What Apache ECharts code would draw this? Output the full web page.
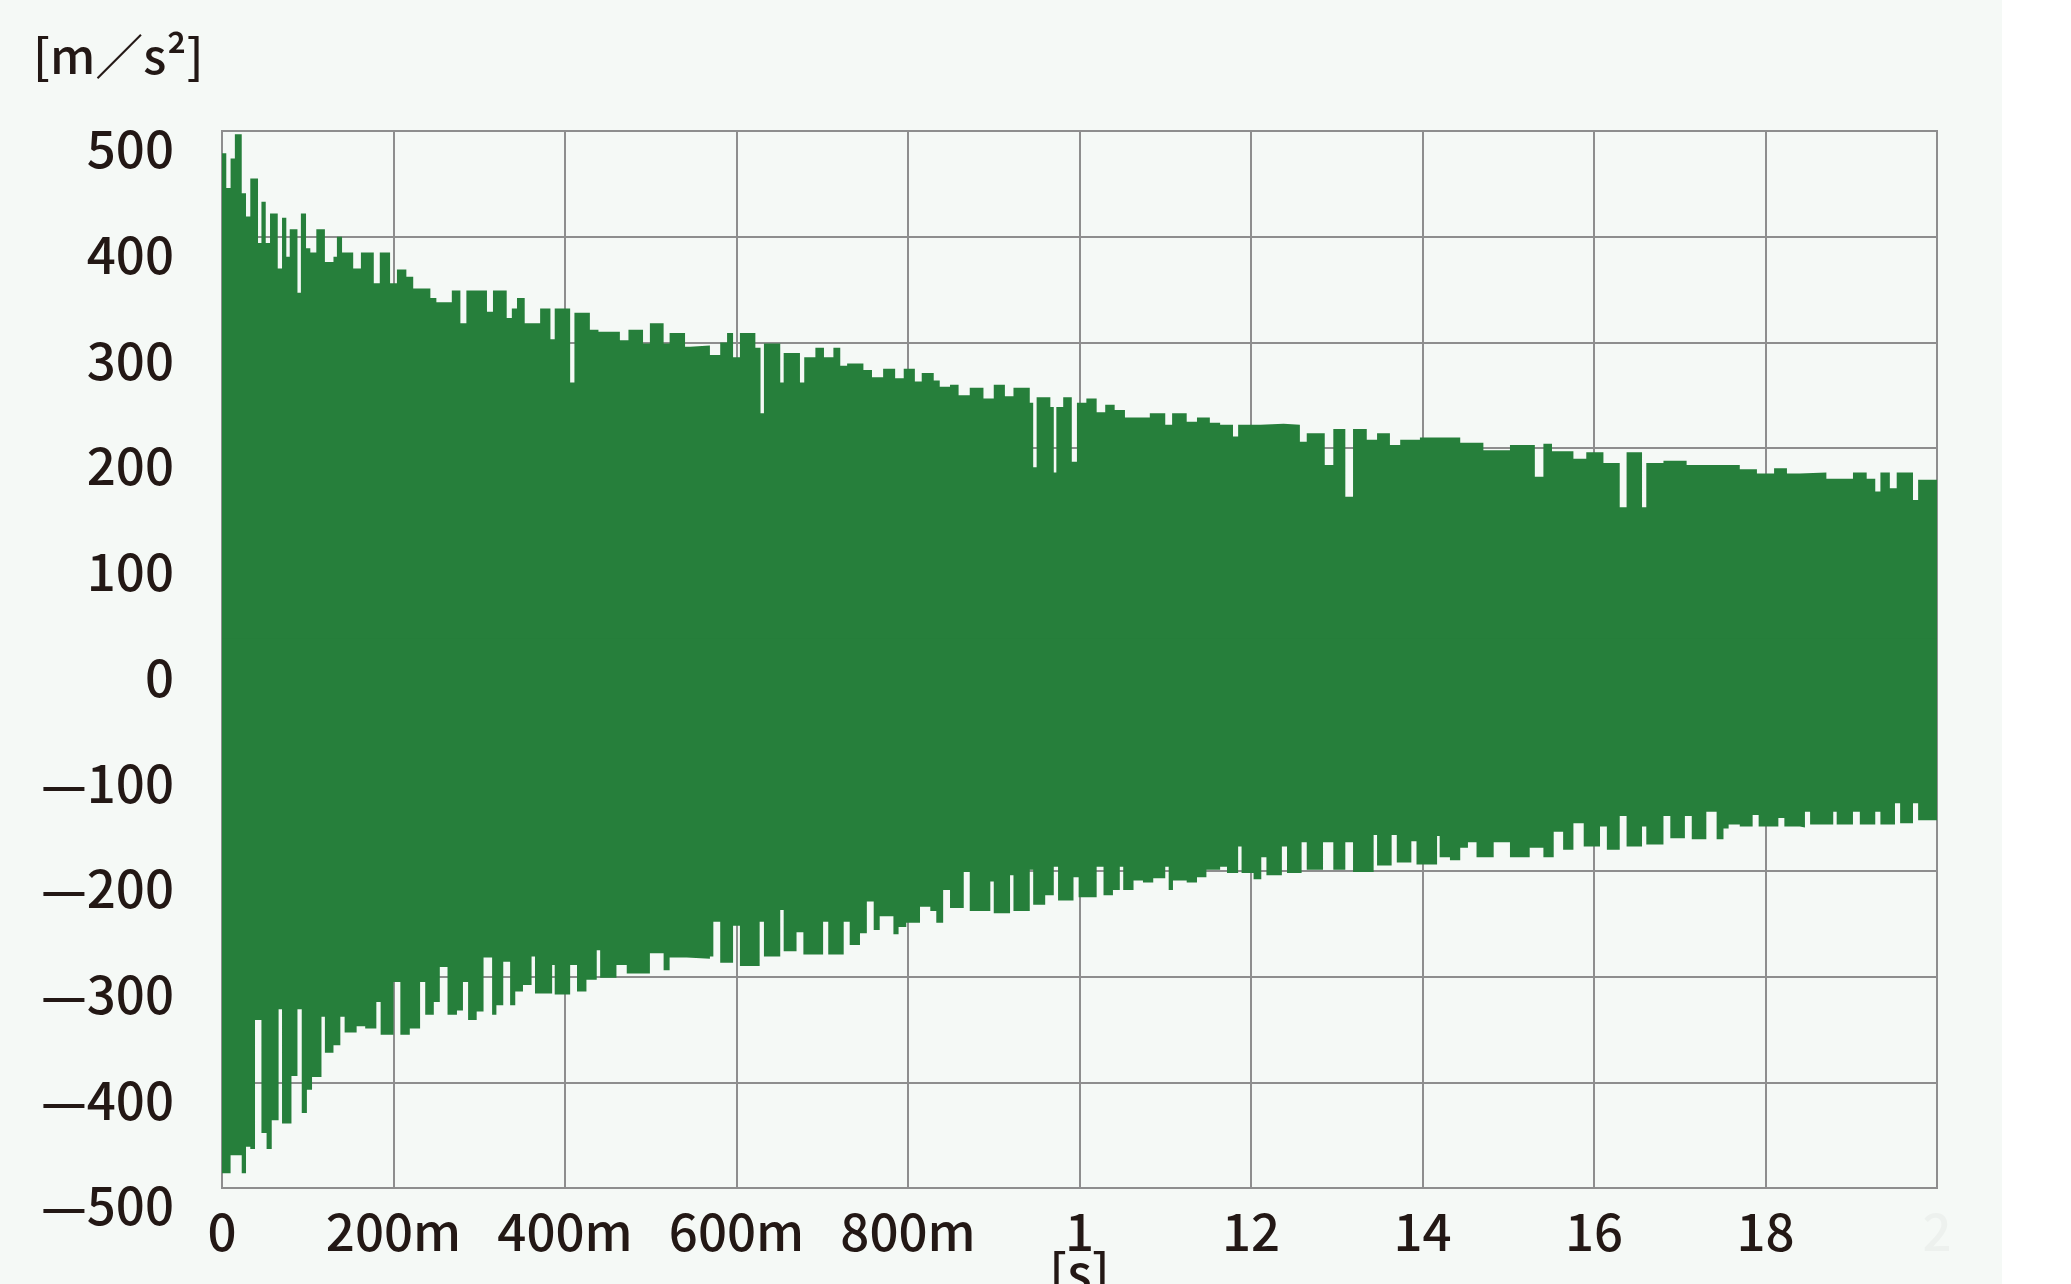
<!DOCTYPE html>
<html>
<head>
<meta charset="utf-8">
<script src="https://cdn.jsdelivr.net/npm/echarts@6/dist/echarts.min.js"></script>
<style>
html,body{margin:0;padding:0;background:#f5f9f6;}
#chart{width:2071px;height:1284px;}
</style>
</head>
<body>
<div id="chart"></div>
<script>
// x tick labels as printed on the original chart
const xTickLabels = ['0', '200m', '400m', '600m', '800m', '1', '12', '14', '16', '18', '2'];
const yUnit = '[m／s²]';
const xUnit = '[s]';

// upper envelope of the decaying acceleration signal (segment start time [s], value [m/s²])
const upperT = [0, 0.005, 0.010, 0.015, 0.023, 0.028, 0.033, 0.042, 0.046, 0.051, 0.056, 0.065, 0.070, 0.075, 0.079, 0.088, 0.092, 0.098, 0.103, 0.110, 0.120, 0.130, 0.134, 0.140, 0.153, 0.162, 0.177, 0.184, 0.196, 0.204, 0.215, 0.223, 0.243, 0.250, 0.268, 0.278, 0.285, 0.309, 0.316, 0.332, 0.338, 0.344, 0.353, 0.371, 0.383, 0.388, 0.406, 0.411, 0.429, 0.439, 0.464, 0.474, 0.491, 0.499, 0.515, 0.522, 0.540, 0.546,
  0.569, 0.581, 0.589, 0.596, 0.604, 0.622, 0.628, 0.632, 0.651, 0.655, 0.674, 0.679, 0.692, 0.702, 0.713, 0.721, 0.729, 0.748, 0.758, 0.771, 0.785, 0.795, 0.808, 0.816, 0.830, 0.837, 0.849, 0.859, 0.872, 0.888, 0.900, 0.913, 0.923, 0.942, 0.946, 0.950, 0.966, 0.970, 0.973, 0.981, 0.991, 0.997, 1.008, 1.020, 1.030, 1.041, 1.053, 1.082, 1.100, 1.108, 1.125, 1.137, 1.152,
  1.164, 1.179, 1.185, 1.211, 1.238, 1.257, 1.265, 1.286, 1.296, 1.310, 1.319, 1.335, 1.347, 1.362, 1.374, 1.397, 1.444, 1.471, 1.502, 1.531, 1.541, 1.551, 1.576, 1.591, 1.611, 1.630, 1.638, 1.656, 1.661, 1.681, 1.708,
  1.770, 1.790, 1.810, 1.825, 1.840, 1.871, 1.902, 1.918, 1.928, 1.934, 1.945, 1.953, 1.972, 1.978, 2.0035];
const upperV = [479, 446, 474, 497, 441, 419, 455, 394, 433, 394, 422, 370, 418, 381, 407, 347, 422, 389, 385, 407, 376, 381, 400, 385, 370, 385, 356, 385, 356, 369, 362, 351, 342, 338, 349, 318, 349, 329, 349, 323, 332, 342, 318, 332, 303, 332, 262, 328, 312, 310, 302, 312, 299, 318, 299, 309, 296, 297,
  288, 300, 309, 286, 309, 295, 233, 299, 262, 290, 262, 286, 295, 286, 295, 278, 280, 274, 267, 275, 266, 275, 263, 271, 264, 258, 260, 250, 257, 247, 260, 249, 257, 243, 182, 248, 239, 177, 239, 248, 187, 243, 247, 234, 241, 236, 229, 233, 222, 233, 225, 229, 224,
  222, 211, 222, 223, 222, 206, 214, 184, 218, 154, 218, 208, 214, 203, 208, 210, 205, 198, 203, 173, 204, 197, 190, 196, 186, 144, 196, 144, 186, 188, 184,
  180, 176, 181, 176, 177, 171, 177, 171, 159, 177, 162, 177, 151, 170, 163];

// lower envelope
const lowerT = [0, 0.010, 0.023, 0.028, 0.033, 0.0385, 0.046, 0.052, 0.058, 0.066, 0.070, 0.081, 0.088, 0.093, 0.099, 0.105, 0.116, 0.120, 0.130, 0.138, 0.143, 0.157, 0.167, 0.180, 0.185, 0.200, 0.208, 0.219, 0.231, 0.237, 0.247, 0.254, 0.263, 0.274, 0.281, 0.287, 0.297, 0.305, 0.315, 0.320, 0.328, 0.336, 0.342, 0.351, 0.361, 0.365, 0.385, 0.388, 0.406, 0.414, 0.425, 0.437, 0.441, 0.460, 0.472, 0.499, 0.515, 0.522, 0.542,
  0.569, 0.573, 0.581, 0.596, 0.604, 0.627, 0.632, 0.651, 0.655, 0.670, 0.678, 0.701, 0.707, 0.725, 0.732, 0.744, 0.752, 0.760, 0.767, 0.783, 0.789, 0.798, 0.814, 0.826, 0.833, 0.841, 0.849, 0.865, 0.872, 0.896, 0.900, 0.919, 0.923, 0.942, 0.946, 0.960, 0.970, 0.975, 0.993, 0.999, 1.020, 1.028, 1.039, 1.047, 1.051, 1.063, 1.074, 1.086, 1.100, 1.104, 1.109, 1.125, 1.137, 1.148,
  1.164, 1.172, 1.185, 1.189, 1.203, 1.212, 1.218, 1.236, 1.242, 1.259, 1.265, 1.284, 1.296, 1.310, 1.319, 1.343, 1.347, 1.364, 1.370, 1.387, 1.393, 1.417, 1.420, 1.432, 1.444, 1.453, 1.463, 1.483, 1.502, 1.525, 1.541, 1.553, 1.564, 1.576, 1.588, 1.607, 1.615, 1.630, 1.638, 1.656, 1.661, 1.681, 1.689, 1.706, 1.714, 1.731, 1.743, 1.751, 1.757,
  1.770, 1.785, 1.792, 1.815, 1.822, 1.840, 1.846, 1.852, 1.879, 1.883, 1.902, 1.910, 1.928, 1.934, 1.951, 1.957, 1.972, 1.978, 2.0035];
const lowerV = [-486, -469, -486, -461, -463, -341, -448, -463, -436, -331, -439, -394, -331, -429, -407, -395, -338, -372, -365, -338, -353, -347, -349, -324, -355, -305, -355, -349, -305, -336, -324, -291, -336, -332, -305, -341, -333, -282, -336, -327, -286, -327, -314, -308, -281, -316, -289, -317, -289, -314, -303, -275, -301, -289, -297, -278, -294, -282, -283,
  -281, -248, -287, -252, -290, -248, -281, -237, -276, -258, -279, -248, -279, -248, -270, -259, -229, -256, -243, -260, -253, -249, -234, -238, -249, -218, -235, -201, -238, -210, -240, -204, -238, -199, -232, -223, -196, -228, -206, -225, -196, -223, -218, -196, -218, -209, -211, -207, -196, -218, -209, -211, -206, -199,
  -196, -202, -177, -202, -208, -187, -204, -177, -202, -173, -199, -173, -199, -173, -201, -166, -195, -166, -192, -172, -194, -167, -187, -190, -178, -173, -187, -173, -187, -178, -187, -163, -180, -155, -177, -158, -180, -148, -177, -158, -175, -148, -169, -148, -170, -144, -170, -160, -156,
  -158, -147, -158, -150, -158, -159, -144, -156, -144, -156, -144, -156, -144, -156, -136, -155, -136, -152, -138];
const endTime = 2.0105;

function stepData(T, V) {
  const d = T.map((t, i) => [t, V[i]]);
  d.push([endTime, V[V.length - 1]]);
  return d;
}

const FONT = '"Noto Sans CJK JP", "Noto Sans", sans-serif';
const TXT = '#231815';
const GRID = '#8e8e8e';
const GREEN = '#267f3b';

const chart = echarts.init(document.getElementById('chart'), null, {renderer: 'canvas'});
const option = {
  backgroundColor: '#f5f9f6',
  animation: false,
  grid: {
    left: 222, right: 134, top: 131, bottom: 96,
    show: true, borderColor: GRID, borderWidth: 2, backgroundColor: 'transparent',
    outerBoundsMode: 'none'
  },
  xAxis: {
    type: 'value', min: 0, max: 2, interval: 0.2,
    axisLine: {show: false}, axisTick: {show: false},
    splitLine: {show: true, lineStyle: {color: GRID, width: 2}},
    axisLabel: {
      margin: 18, fontSize: 51, fontWeight: 500, fontFamily: FONT,
      color: (v) => (v >= 1.99 ? '#edf1ee' : TXT),
      formatter: (v) => xTickLabels[Math.round(v / 0.2)]
    },
    name: xUnit, nameLocation: 'middle', nameGap: 59, nameMoveOverlap: false,
    nameTextStyle: {fontSize: 51, fontWeight: 500, fontFamily: FONT, color: TXT, verticalAlign: 'top'}
  },
  yAxis: {
    type: 'value', min: -500, max: 500, interval: 100,
    axisLine: {show: false}, axisTick: {show: false},
    splitLine: {show: true, lineStyle: {color: GRID, width: 2}},
    axisLabel: {
      margin: 48, fontSize: 51, fontWeight: 500, fontFamily: FONT, color: TXT,
      verticalAlign: 'top', lineHeight: 36,
      formatter: (v) => (v < 0 ? '—' + Math.abs(v) : String(v))
    }
  },
  graphic: [
    {type: 'rect', shape: {x: 2002, y: 0, width: 69, height: 1284}, style: {fill: '#ffffff'}, silent: true},
    {type: 'text', style: {x: 33, y: 56, text: yUnit, fontSize: 48, fontWeight: 500, fontFamily: FONT, fill: TXT, align: 'left', verticalAlign: 'middle'}, silent: true}
  ],
  series: [
    {
      type: 'line', step: 'end', data: stepData(upperT, upperV),
      showSymbol: false, clip: false, silent: true,
      lineStyle: {width: 0, opacity: 0},
      areaStyle: {color: GREEN, opacity: 1, origin: -20}
    },
    {
      type: 'line', step: 'end', data: stepData(lowerT, lowerV),
      showSymbol: false, clip: false, silent: true,
      lineStyle: {width: 0, opacity: 0},
      areaStyle: {color: GREEN, opacity: 1, origin: 20}
    }
  ]
};
chart.setOption(option);
</script>
</body>
</html>
